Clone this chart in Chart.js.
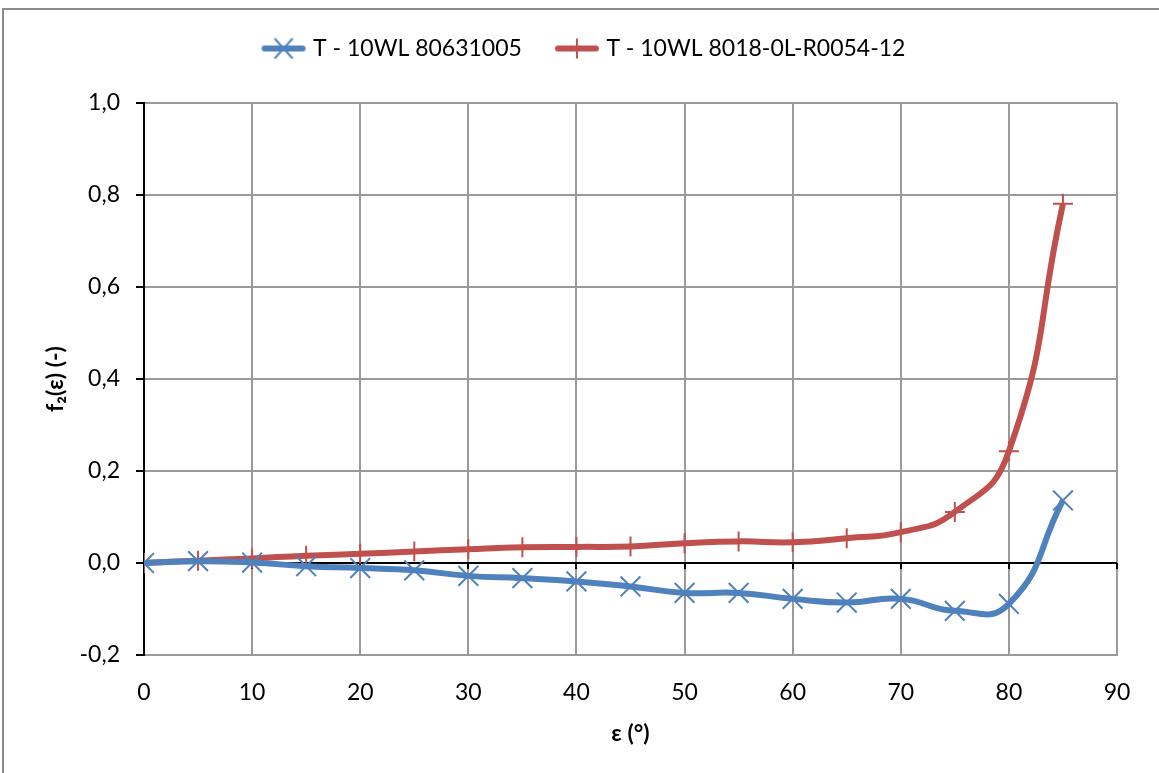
<!DOCTYPE html>
<html>
<head>
<meta charset="utf-8">
<script src="https://cdn.jsdelivr.net/npm/chart.js@4.4.1/dist/chart.umd.min.js"></script>
<style>
  html, body { margin: 0; padding: 0; background: #fff; overflow: hidden; }
  #wrap { width: 1159px; height: 773px; position: relative; }
</style>
</head>
<body>
<div id="wrap"><canvas id="chart"></canvas></div>
<script>
// --- Data ---
const angles = [0, 5, 10, 15, 20, 25, 30, 35, 40, 45, 50, 55, 60, 65, 70, 75, 80, 85]
const blueValues = [0, 0.004, 0.001, -0.007, -0.011, -0.016, -0.028, -0.033, -0.040, -0.051, -0.065, -0.065, -0.078, -0.086, -0.078, -0.104, -0.089, 0.136]
const redValues = [0, 0.005, 0.010, 0.016, 0.020, 0.025, 0.030, 0.034, 0.035, 0.036, 0.043, 0.047, 0.045, 0.054, 0.067, 0.111, 0.243, 0.781]
const seriesNames = ['T - 10WL 80631005', 'T - 10WL 8018-0L-R0054-12']
const xTitle = 'ε (°)'
const yTitle = 'f₂(ε) (-)'

const BLUE = '#4f81bd'
const RED = '#c0504d'
const GRID = '#9a9a9a'
const FONT_SIZE = 23

Chart.defaults.font.family = 'Lato, "Open Sans", sans-serif'
Chart.defaults.font.size = FONT_SIZE
Chart.defaults.color = '#000'

const toPoints = (vals) => angles.map((a, i) => ({ x: a, y: vals[i] }))
const fmt = (v) => (Math.abs(v) < 1e-9 ? 0 : v).toFixed(1).replace('.', ',')

// legend sample: short thick line with the marker on top
function legendSample(color, rotated) {
  const c = document.createElement('canvas')
  c.width = 46
  c.height = 24
  const g = c.getContext('2d')
  g.strokeStyle = color
  g.lineCap = 'round'
  g.lineWidth = 6
  g.beginPath(); g.moveTo(4, 12); g.lineTo(42, 12); g.stroke()
  g.lineWidth = 2
  g.lineCap = 'butt'
  g.beginPath()
  if (rotated) {
    g.moveTo(14, 2); g.lineTo(32, 22); g.moveTo(32, 2); g.lineTo(14, 22)
  } else {
    g.moveTo(23, 2); g.lineTo(23, 22)
  }
  g.stroke()
  return c
}
const legendImgs = [legendSample(BLUE, true), legendSample(RED, false)]

// frame, legend spacing, zero-line tick marks
const extras = {
  id: 'extras',
  afterInit(chart) {
    const lg = chart.legend
    const fit = lg.fit
    lg.fit = function () { fit.call(this); this.height += 33 }
  },
  afterLayout(chart) {
    chart.legend.left += 20
    chart.legend.right += 20
  },
  beforeDraw(chart) {
    const { ctx, width, height } = chart
    ctx.save()
    ctx.fillStyle = '#fff'
    ctx.fillRect(0, 0, width, height)
    ctx.strokeStyle = '#8c8c8c'
    ctx.lineWidth = 2
    ctx.beginPath()
    ctx.moveTo(3, height + 2); ctx.lineTo(3, 9); ctx.lineTo(width + 2, 9)
    ctx.stroke()
    ctx.restore()
  },
  beforeDatasetsDraw(chart) {
    const { ctx, scales: { x, y } } = chart
    const y0 = Math.round(y.getPixelForValue(0))
    ctx.save()
    ctx.strokeStyle = '#000'
    ctx.lineWidth = 2
    ctx.beginPath()
    x.ticks.forEach(t => {
      const px = Math.round(x.getPixelForValue(t.value))
      ctx.moveTo(px, y0); ctx.lineTo(px, y0 + 6)
    })
    ctx.stroke()
    ctx.restore()
  }
}

new Chart(document.getElementById('chart'), {
  type: 'line',
  data: {
    datasets: [
      {
        label: seriesNames[0],
        data: toPoints(blueValues),
        borderColor: BLUE,
        backgroundColor: BLUE,
        borderWidth: 6,
        tension: 0.5,
        pointStyle: 'crossRot',
        pointRadius: 14,
        pointBorderWidth: 2,
        pointBorderColor: BLUE
      },
      {
        label: seriesNames[1],
        data: toPoints(redValues),
        borderColor: RED,
        backgroundColor: RED,
        borderWidth: 6,
        tension: 0.5,
        pointStyle: 'cross',
        pointRadius: 10,
        pointBorderWidth: 2,
        pointBorderColor: RED
      }
    ]
  },
  options: {
    responsive: true,
    maintainAspectRatio: false,
    animation: false,
    layout: { padding: { top: 0, right: 42, bottom: 20, left: 14 } },
    plugins: {
      tooltip: { enabled: false },
      legend: {
        position: 'top',
        labels: {
          usePointStyle: true,
          pointStyleWidth: 36,
          padding: 37,
          generateLabels(chart) {
            const items = Chart.defaults.plugins.legend.labels.generateLabels(chart)
            items.forEach((it, i) => { it.pointStyle = legendImgs[i] })
            return items
          }
        }
      }
    },
    scales: {
      x: {
        type: 'linear',
        min: 0,
        max: 90,
        ticks: { stepSize: 10, padding: 24, callback: (v) => v },
        grid: {
          color: (c) => (c.tick && c.tick.value === 0 ? '#000' : GRID),
          lineWidth: 2,
          drawTicks: false
        },
        border: { color: GRID, width: 2 },
        title: { display: true, text: xTitle, font: { weight: 'bold', size: FONT_SIZE }, padding: { top: 0, bottom: 6 } },
        afterFit(scale) { scale.height = 98 }
      },
      y: {
        type: 'linear',
        min: -0.2,
        max: 1.0,
        ticks: { stepSize: 0.2, padding: 16, callback: (v) => fmt(v) },
        grid: {
          color: (c) => (c.tick && Math.abs(c.tick.value) < 1e-9 ? '#000' : GRID),
          lineWidth: 2,
          tickLength: 8,
          tickColor: '#000'
        },
        border: { color: '#000', width: 2 },
        title: { display: true, text: yTitle, font: { weight: 'bold', size: FONT_SIZE }, padding: { top: 28, bottom: 0 } },
        afterFit(scale) { scale.width = 130 }
      }
    }
  },
  plugins: [extras]
})
</script>
</body>
</html>
